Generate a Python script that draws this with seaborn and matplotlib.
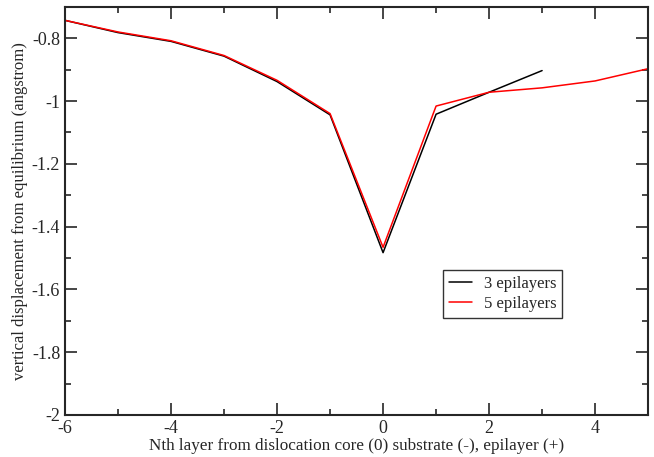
import pandas as pd
import numpy as np
import matplotlib.pyplot as plt
import seaborn as sns
from matplotlib.ticker import MultipleLocator

# layer index and displacement values
layers_3 = [-6, -5, -4, -3, -2, -1, 0, 1, 2, 3]
disp_3 = [-0.743, -0.782, -0.810, -0.857, -0.938, -1.044, -1.483, -1.042, -0.972, -0.903]
layers_5 = [-6, -5, -4, -3, -2, -1, 0, 1, 2, 3, 4, 5]
disp_5 = [-0.743, -0.780, -0.808, -0.855, -0.934, -1.040, -1.466, -1.016, -0.972, -0.958, -0.936, -0.897]

df = pd.concat([
    pd.DataFrame({'layer': layers_3, 'disp': disp_3, 'series': '3 epilayers'}),
    pd.DataFrame({'layer': layers_5, 'disp': disp_5, 'series': '5 epilayers'}),
])

sns.set_style('ticks')
plt.rcParams['font.family'] = ['Liberation Serif', 'DejaVu Serif']

fig = plt.figure(figsize=(6.54, 4.57), dpi=100)
ax = fig.add_axes([0.0994, 0.092, 0.8916, 0.893])
sns.lineplot(data=df, x='layer', y='disp', hue='series',
             palette={'3 epilayers': 'black', '5 epilayers': 'red'},
             linewidth=1.1, ax=ax, sort=False)

ax.set_xlim(-6, 5)
ax.set_ylim(-2, -0.7)
ax.xaxis.set_minor_locator(MultipleLocator(1))
ax.yaxis.set_minor_locator(MultipleLocator(0.1))
ax.set_yticks([-2, -1.8, -1.6, -1.4, -1.2, -1, -0.8])
ax.set_yticklabels(['-2', '-1.8', '-1.6', '-1.4', '-1.2', '-1', '-0.8'])
ax.set_xticks([-6, -4, -2, 0, 2, 4])
ax.set_xticklabels(['-6', '-4', '-2', '0', '2', '4'])
ax.tick_params(which='both', direction='in', top=True, right=True, labelsize=13, width=1.2)
ax.tick_params(which='major', length=8.6)
ax.tick_params(which='minor', length=4.3)
for s in ax.spines.values():
    s.set_linewidth(1.5)

ax.set_xlabel('Nth layer from dislocation core (0) substrate (-), epilayer (+)', fontsize=12.3, labelpad=1)
ax.set_ylabel('vertical displacement from equilibrium (angstrom)', fontsize=12, labelpad=3)

leg = ax.legend(loc='upper left', bbox_to_anchor=(0.648, 0.355), borderaxespad=0,
                fontsize=12, frameon=True, fancybox=False, edgecolor='black',
                handlelength=1.4, handletextpad=0.7, borderpad=0.35, labelspacing=0.25)
leg.get_frame().set_linewidth(1.0)

fig.savefig('out.png', dpi=100)
